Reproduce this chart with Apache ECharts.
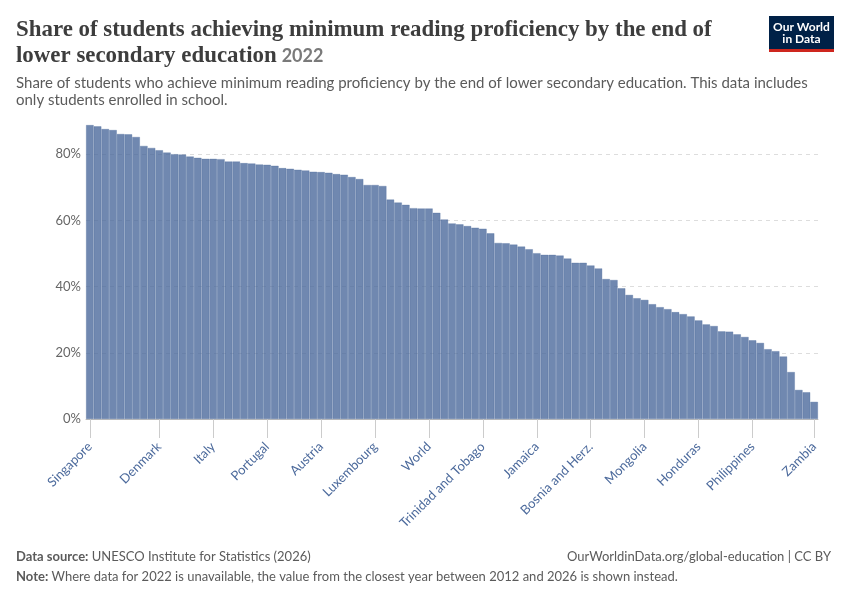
<!DOCTYPE html>
<html>
<head>
<meta charset="utf-8">
<title>Minimum reading proficiency, lower secondary</title>
<script src="https://cdn.jsdelivr.net/npm/echarts@6/dist/echarts.min.js"></script>
<style>
  html, body { margin: 0; padding: 0; background: #fff; }
  #container { width: 850px; height: 600px; }
</style>
</head>
<body>
<div id="container"></div>
<script>
// share of students (%) reaching minimum reading proficiency, sorted high to low
var shares = [
    88.8, 88.4, 87.6, 87.3, 86.1, 86.0, 85.2, 82.5, 81.9, 81.2,
    80.5, 80.0, 79.9, 79.3, 78.9, 78.6, 78.6, 78.5, 77.8, 77.8,
    77.3, 77.2, 76.9, 76.8, 76.5, 75.8, 75.6, 75.3, 75.1, 74.7,
    74.6, 74.4, 74.0, 73.8, 73.1, 72.5, 70.7, 70.7, 70.4, 66.3,
    65.4, 64.7, 63.7, 63.6, 63.6, 62.3, 60.3, 59.1, 58.8, 58.3,
    57.8, 57.5, 56.1, 53.2, 53.1, 52.7, 52.1, 51.3, 50.1, 49.6,
    49.6, 49.4, 48.5, 47.2, 47.2, 46.4, 45.5, 42.3, 42.0, 39.5,
    37.5, 36.5, 36.0, 34.7, 33.8, 33.2, 32.3, 31.7, 31.0, 29.8,
    28.6, 28.1, 26.5, 26.4, 25.6, 24.8, 23.8, 23.0, 21.1, 20.5,
    18.9, 14.2, 8.8, 8.1, 5.2
];

// only these bars carry a label on the x axis
var labelIndex = [0, 9, 16, 23, 30, 37, 44, 51, 58, 65, 72, 79, 86, 94];
var labelNames = ['Singapore', 'Denmark', 'Italy', 'Portugal', 'Austria', 'Luxembourg', 'World',
    'Trinidad and Tobago', 'Jamaica', 'Bosnia and Herz.', 'Mongolia', 'Honduras', 'Philippines', 'Zambia'];

var yTicks = [0, 20, 40, 60, 80];

var categories = shares.map(function (v, i) {
    var k = labelIndex.indexOf(i);
    return k >= 0 ? labelNames[k] : '';
});

var myChart = echarts.init(document.getElementById('container'));

var option = {
    backgroundColor: '#fff',
    animation: false,
    title: [
        {
            left: 16,
            top: 17,
            padding: 0,
            text: '{t|Share of students achieving minimum reading proficiency by the end of}\n{t|lower secondary education} {y|2022}',
            textStyle: {
                rich: {
                    t: { fontFamily: 'Liberation Serif', fontWeight: 'bold', fontSize: 22.9, color: '#3d3d3d', lineHeight: 26 },
                    y: { fontFamily: 'Lato', fontSize: 18, color: '#7a7a7a', lineHeight: 26 }
                }
            }
        },
        {
            left: 16,
            top: 75,
            padding: 0,
            text: 'Share of students who achieve minimum reading proficiency by the end of lower secondary education. This data includes\nonly students enrolled in school.',
            textStyle: { fontFamily: 'Lato', fontWeight: 'normal', fontSize: 15, color: '#5b5b5b', lineHeight: 17 }
        },
        {
            left: 16,
            top: 547,
            padding: 0,
            text: '{b|Data source:} UNESCO Institute for Statistics (2026)\n{b|Note:} Where data for 2022 is unavailable, the value from the closest year between 2012 and 2026 is shown instead.',
            textStyle: {
                fontFamily: 'Lato', fontWeight: 'normal', fontSize: 13, color: '#5b5b5b', lineHeight: 20,
                rich: {
                    b: { fontFamily: 'Lato', fontWeight: 'bold', fontSize: 13, color: '#5b5b5b', lineHeight: 20 }
                }
            }
        },
        {
            right: 19,
            top: 547,
            padding: 0,
            text: 'OurWorldinData.org/global-education | CC BY',
            textStyle: { fontFamily: 'Lato', fontWeight: 'normal', fontSize: 13, color: '#5b5b5b', lineHeight: 20 }
        }
    ],
    graphic: [
        { type: 'rect', left: 769, top: 16, shape: { width: 65, height: 36 }, style: { fill: '#002147' } },
        { type: 'rect', left: 769, top: 49, shape: { width: 65, height: 3 }, style: { fill: '#ce261e' } },
        {
            type: 'text',
            x: 801.5,
            y: 21,
            style: {
                text: 'Our World\nin Data', textAlign: 'center',
                fill: '#fff', fontFamily: 'Lato', fontWeight: 'bold', fontSize: 12, lineHeight: 12
            }
        }
    ],
    grid: {
        left: 86,
        right: 32,
        top: 125,
        bottom: 181
    },
    xAxis: {
        type: 'category',
        data: categories,
        axisLine: { lineStyle: { color: '#bbb', width: 1 } },
        axisTick: {
            show: true,
            customValues: labelIndex,
            alignWithLabel: true,
            length: 19,
            lineStyle: { color: '#ccc', width: 1 }
        },
        axisLabel: {
            customValues: labelIndex,
            rotate: 45,
            align: 'right',
            verticalAlign: 'middle',
            margin: 25.5,
            fontFamily: 'Lato',
            fontSize: 13,
            color: '#4c6a9c'
        },
        splitLine: { show: false }
    },
    yAxis: {
        type: 'value',
        min: 0,
        max: 'dataMax',
        interval: 20,
        axisLine: { show: false },
        axisTick: { show: false },
        axisLabel: {
            showMaxLabel: false,
            margin: 5,
            fontFamily: 'Lato',
            fontSize: 13,
            color: '#666',
            formatter: function (v) {
                return yTicks.indexOf(v) >= 0 ? v + '%' : '';
            }
        },
        splitLine: {
            showMinLine: false,
            showMaxLine: false,
            lineStyle: { color: '#ddd', type: [4, 4] }
        }
    },
    series: [
        {
            name: 'Share of students',
            type: 'bar',
            data: shares,
            barCategoryGap: '0%',
            itemStyle: {
                color: 'rgba(76,106,156,0.8)',
                borderColor: 'rgba(76,106,156,0.55)',
                borderWidth: 0.6
            }
        }
    ]
};

myChart.setOption(option);
</script>
</body>
</html>
